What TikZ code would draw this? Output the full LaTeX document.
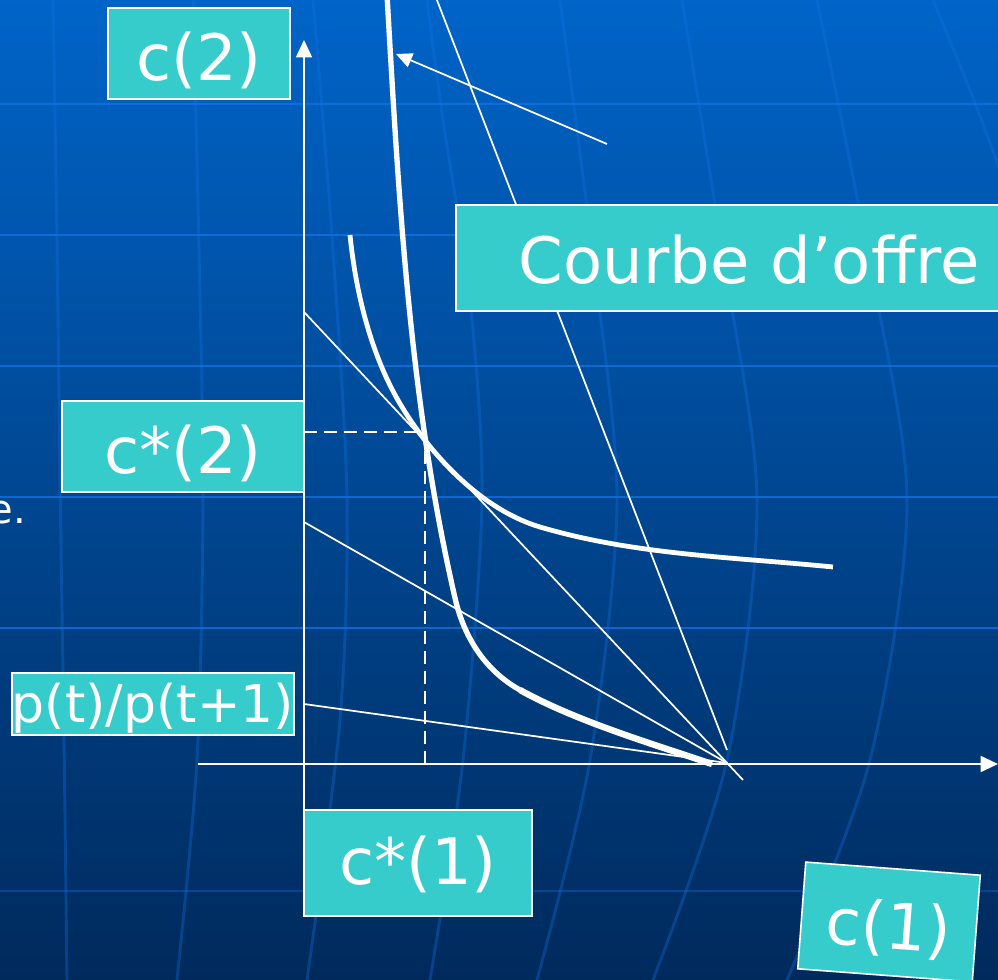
\documentclass[tikz,border=0pt]{standalone}
\usepackage{fontspec}
\setmainfont{DejaVu Sans}
\usetikzlibrary{arrows.meta}
\definecolor{boxc}{RGB}{54,204,204}
\definecolor{bgtop}{RGB}{0,100,200}
\definecolor{bgmid}{RGB}{0,76,154}
\definecolor{bgbot}{RGB}{0,42,92}
\definecolor{gridc}{RGB}{20,115,230}
\def\u{0.75pt}
\tikzset{
  lbl/.style={draw=white, line width=1.2pt, fill=boxc, text=white, inner sep=0pt,
    font=\fontsize{48}{58}\selectfont, text height=43pt, text depth=3pt},
  thinln/.style={white, line width=1.3pt},
  thickln/.style={white, line width=3.6pt, line cap=butt},
  dsh/.style={white, line width=1.3pt, dash pattern=on 10pt off 5pt},
  gridh/.style={gridc, line width=2.2pt, opacity=0.75},
  gridv/.style={gridc, line width=2.2pt, opacity=0.33},
  tipA/.style={-{Triangle[width=12pt,length=13pt]}},
}
\begin{document}
\begin{tikzpicture}[x=0.75pt,y=-0.75pt]
\useasboundingbox (0,0) rectangle (998,980);
\shade[top color=bgtop, middle color=bgmid, bottom color=bgbot] (0,0) rectangle (998,980);
% background grid
\foreach \yy in {104,235,366,497,628} \draw[gridh] (0,\yy) -- (998,\yy);
\draw[gridh, opacity=0.35] (0,891) -- (998,891);
\draw[gridv] plot[smooth] coordinates {(53,0) (57,240) (60,480) (64,740) (67,980)};
\draw[gridv] plot[smooth] coordinates {(193,0) (199,250) (203,500) (197,760) (177,980)};
\draw[gridv] plot[smooth] coordinates {(313,0) (333,250) (347,500) (340,720) (307,980)};
\draw[gridv] plot[smooth] coordinates {(427,0) (443,120) (470,300) (482,500) (463,760) (430,980)};
\draw[gridv] plot[smooth] coordinates {(560,0) (592,250) (617,500) (590,760) (537,980)};
\draw[gridv] plot[smooth] coordinates {(682,0) (722,250) (757,500) (727,760) (653,980)};
\draw[gridv] plot[smooth] coordinates {(817,0) (867,250) (907,500) (870,760) (787,980)};
\draw[gridv] plot[smooth] coordinates {(933,0) (970,90) (1000,170)};

% stray text
\node[anchor=base east, inner sep=0pt, text=white, font=\fontsize{30}{36}\selectfont] (etxt) at (26,523) {e.};

% coordinates
\coordinate (O) at (304,764);
\coordinate (ytop) at (304,40);
\coordinate (ybot) at (304,810);
\coordinate (xl) at (198,764);
\coordinate (xr) at (998,764);
\coordinate (F) at (727,763);
\coordinate (b1s) at (304,312);
\coordinate (b1e) at (743,780);
\coordinate (b2s) at (304,522);
\coordinate (b3s) at (304,704);
\coordinate (b4s) at (435,-5);
\coordinate (b4e) at (727,750);
\coordinate (E) at (425,432);
\coordinate (Ey) at (304,432);
\coordinate (Ex) at (425,764);
\coordinate (ptrs) at (607,144);
\coordinate (ptre) at (396,54);

% budget lines
\draw[thinln] (b1s) -- (b1e);
\draw[thinln] (b2s) -- (F);
\draw[thinln] (b3s) -- (F);
\draw[thinln] (b4s) -- (b4e);

% axes
\draw[thinln, tipA] (ybot) -- (ytop);
\draw[thinln, tipA] (xl) -- (xr);

% dashed
\draw[dsh] (Ey) -- (E);
\draw[dsh] (Ex) -- (E);

% indifference curve
\draw[thickln] (350,235) .. controls (356,295) and (372,358) .. (402,407)
  .. controls (433,458) and (483,510) .. (540,527)
  .. controls (635,555) and (733,557) .. (833,567);
% offer curve
\draw[thickln, line width=4pt] (387,-5) .. controls (398.6,195) and (409,398) .. (455,598)
  .. controls (466.5,648) and (494,675.5) .. (520,690);
\draw[thickln, line width=4.8pt] (520,690) .. controls (577,721.5) and (650,743) .. (712,764);

% pointer
\draw[thinln, -{Triangle[width=11pt,length=12pt]}] (ptrs) -- (ptre);

% labels
\node[lbl, minimum width={182*\u}, minimum height={91*\u}] (c2) at (199,53.5) {c(2)};
\node[lbl, anchor=west, minimum height={106*\u}, inner xsep={63*\u}, text width={480*\u}, align=left, text height=41pt] (courbe) at (455,258) {Courbe d’offre};
\node[lbl, minimum width={242*\u}, minimum height={91*\u}] (cs2) at (183,446.5) {c*(2)};
\node[lbl, minimum width={274*\u}, minimum height={62*\u}, font=\fontsize{39}{46}\selectfont, text height=31pt, text depth=2.7pt] (pt) at (153,704) {p(t)/p(t+1)};
\node[lbl, minimum width={228*\u}, minimum height={106*\u}, text height=36pt, text depth=3.4pt] (cs1) at (418,863) {c*(1)};
\node[lbl, minimum width={175*\u}, minimum height={107*\u}, rotate=-4.3] (c1) at (889,922) {c(1)};
\end{tikzpicture}
\end{document}
